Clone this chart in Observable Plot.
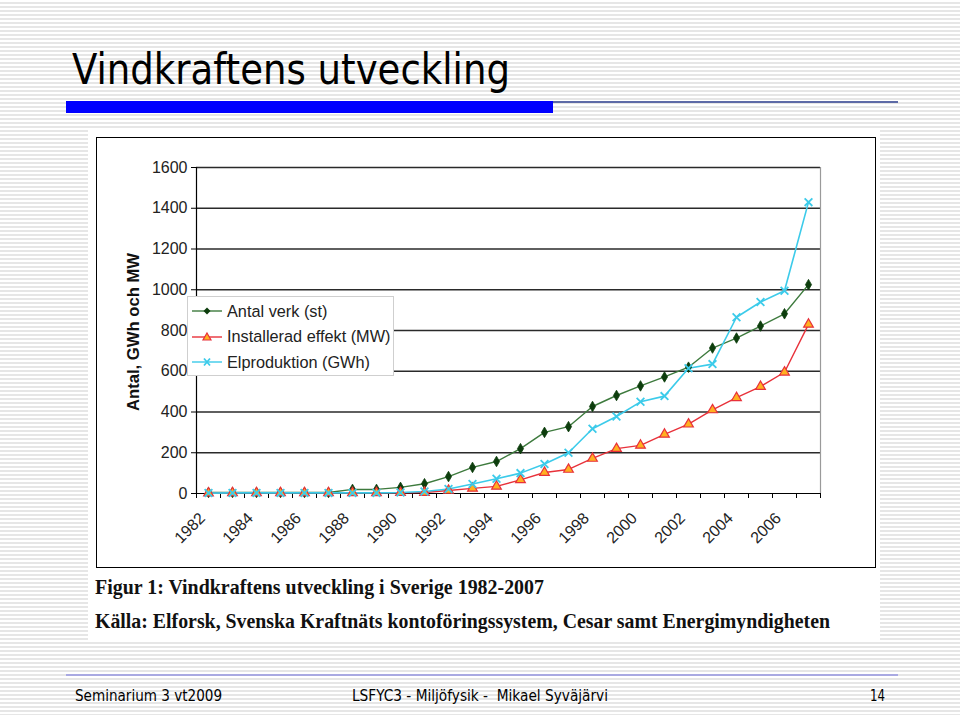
<!DOCTYPE html>
<html><head><meta charset="utf-8">
<script src="https://cdn.jsdelivr.net/npm/d3@7"></script>
<script src="https://cdn.jsdelivr.net/npm/@observablehq/plot@0.6"></script>
<style>
html,body{margin:0;padding:0;}
body{width:960px;height:715px;position:relative;overflow:hidden;
 background:repeating-linear-gradient(to bottom,#ffffff 0px,#ffffff 2px,#e6e6e6 2px,#e6e6e6 4px);
 font-family:"Liberation Sans",Arial,sans-serif;}
#deco{position:absolute;left:0;top:0;}
#chart{position:absolute;left:96px;top:137px;}
#legend{position:absolute;left:187px;top:296px;width:207px;height:80px;background:#fff;border:1px solid #cfcfcf;box-sizing:border-box;}
#legend .row{position:absolute;left:4px;height:20px;display:flex;align-items:center;font-size:16.3px;color:#222;white-space:nowrap;}
#legend svg{margin-right:3px;}
</style></head><body>
<svg id="deco" width="960" height="715" font-family="Liberation Sans, Arial, sans-serif">
 <text x="72" y="84" font-family="DejaVu Sans Condensed, DejaVu Sans" font-stretch="condensed" font-size="42" textLength="438" lengthAdjust="spacingAndGlyphs" fill="#000">Vindkraftens utveckling</text>
 <rect x="66" y="101" width="487" height="12" fill="#0000ff"/>
 <rect x="553" y="101" width="345" height="2" fill="#5d6aa6"/>
 <rect x="88" y="129" width="792" height="511" fill="#fff"/>
 <rect x="96.5" y="137.5" width="779" height="430" fill="none" stroke="#000" stroke-width="1"/>
 <text x="95" y="594" font-family="Liberation Serif, serif" font-weight="bold" font-size="21" textLength="449" lengthAdjust="spacingAndGlyphs" fill="#111">Figur 1: Vindkraftens utveckling i Sverige 1982-2007</text>
 <text x="95" y="628" font-family="Liberation Serif, serif" font-weight="bold" font-size="21" textLength="735" lengthAdjust="spacingAndGlyphs" fill="#111">Källa: Elforsk, Svenska Kraftnäts kontoföringssystem, Cesar samt Energimyndigheten</text>
 <rect x="66" y="674" width="832" height="2" fill="#a9a9e2"/>
 <text x="75" y="701" font-family="DejaVu Sans Condensed, DejaVu Sans" font-stretch="condensed" font-size="16" textLength="147" lengthAdjust="spacingAndGlyphs" fill="#000">Seminarium 3 vt2009</text>
 <text x="352" y="701" xml:space="preserve" font-family="DejaVu Sans Condensed, DejaVu Sans" font-stretch="condensed" font-size="16" textLength="256" lengthAdjust="spacingAndGlyphs" fill="#000">LSFYC3 - Miljöfysik -  Mikael Syväjärvi</text>
 <text x="870" y="701" font-family="DejaVu Sans Condensed, DejaVu Sans" font-stretch="condensed" font-size="16" textLength="15" lengthAdjust="spacingAndGlyphs" fill="#000">14</text>
 <text transform="translate(139,332) rotate(-90)" text-anchor="middle" font-weight="bold" font-size="16.5" textLength="158" lengthAdjust="spacingAndGlyphs" fill="#111">Antal, GWh och MW</text>
</svg>
<div id="chart"></div>
<div id="legend"></div>
<script>
// ---- data ----
const years = [1982,1983,1984,1985,1986,1987,1988,1989,1990,1991,1992,1993,1994,1995,1996,1997,1998,1999,2000,2001,2002,2003,2004,2005,2006,2007];
const antalVerk = [5,5,5,5,5,5,20,20,30,48,83,128,157,220,300,328,427,481,528,572,620,714,763,822,882,1025];
const installeradEffekt = [2,3,3,3,3,3,3,3,4,5,15,25,35,67,103,118,172,220,236,290,340,410,470,525,595,830];
const elproduktion = [2,3,3,3,3,3,3,3,5,10,22,47,72,100,145,200,318,378,450,478,615,635,865,940,995,1430];
const seriesNames = ["Antal verk (st)","Installerad effekt (MW)","Elproduktion (GWh)"];
const yTicks = [0,200,400,600,800,1000,1200,1400,1600];
const xTickLabels = [1982,1984,1986,1988,1990,1992,1994,1996,1998,2000,2002,2004,2006];
const colors = {line:["#3d7a3d","#e8313a","#3ccbea"], fill:["#0d3d0d","#ffb020","#3ccbea"]};

const rows = (vals, s) => years.map((yr, i) => ({year: yr, value: vals[i], series: s}));
const d0 = rows(antalVerk, seriesNames[0]);
const d1 = rows(installeradEffekt, seriesNames[1]);
const d2 = rows(elproduktion, seriesNames[2]);
const boundaries = years.map(y => y - 0.5).concat([years[years.length-1] + 0.5]);

const chart = Plot.plot({
  width: 780, height: 430,
  marginLeft: 100, marginRight: 56, marginTop: 30, marginBottom: 74,
  x: {type: "linear", domain: [boundaries[0], boundaries[boundaries.length-1]]},
  y: {domain: [0, 1600]},
  style: {fontFamily: "Liberation Sans, Arial, sans-serif", fontSize: "16px", color: "#222", background: "transparent", overflow: "visible"},
  marks: [
    Plot.ruleY(yTicks.filter(d => d > 0), {stroke: "#2a2a2a", strokeWidth: 1.3}),
    Plot.ruleX([boundaries[boundaries.length-1]], {stroke: "#9a9a9a", strokeWidth: 1.2}),
    Plot.axisY({ticks: yTicks, tickSize: 5, tickPadding: 4, tickFormat: d => String(d), label: null, stroke: "#000", fontSize: 16}),
    Plot.ruleX([boundaries[0]], {stroke: "#000", strokeWidth: 1.2}),
    Plot.ruleY([0], {stroke: "#000", strokeWidth: 1.2}),
    Plot.axisX({ticks: boundaries, tickSize: 5, tickFormat: () => "", label: null, stroke: "#000"}),
    Plot.axisX({ticks: xTickLabels, tickSize: 0, tickRotate: -45, tickPadding: 22, dx: -6, tickFormat: d => String(d), label: null, fontSize: 16}),
    Plot.line(d0, {x: "year", y: "value", stroke: colors.line[0], strokeWidth: 1.4}),
    Plot.line(d1, {x: "year", y: "value", stroke: colors.line[1], strokeWidth: 1.4}),
    Plot.line(d2, {x: "year", y: "value", stroke: colors.line[2], strokeWidth: 1.6}),
    Plot.dot(d0, {x: "year", y: "value", symbol: "diamond", r: 3.2, fill: colors.fill[0], stroke: colors.fill[0], strokeWidth: 0.8}),
    Plot.dot(d1, {x: "year", y: "value", symbol: "triangle", r: 3.6, fill: colors.fill[1], stroke: colors.line[1], strokeWidth: 1.2}),
    Plot.dot(d2, {x: "year", y: "value", symbol: "times", r: 3.6, stroke: colors.fill[2], strokeWidth: 1.8})
  ]
});
document.getElementById("chart").appendChild(chart);

// legend
const legend = document.getElementById("legend");
const markerSvg = [
  '<path d="M7,-3.5L10.5,0L7,3.5L3.5,0Z" transform="translate(8,0)" fill="#0d3d0d"/>',
  '<path d="M15,-4L19,3L11,3Z" fill="#ffb020" stroke="#e8313a" stroke-width="1.2"/>',
  '<path d="M12,-3.5L18,3.5M18,-3.5L12,3.5" stroke="#3ccbea" stroke-width="1.8"/>'
];
seriesNames.forEach((name, i) => {
  const row = document.createElement("div");
  row.className = "row";
  row.style.top = (4 + i * 25.5) + "px";
  row.innerHTML = `<svg width="32" height="20" viewBox="0 -10 32 20"><line x1="0" x2="30" y1="0" y2="0" stroke="${colors.line[i]}" stroke-width="1.4"/>${markerSvg[i]}</svg><span>${name}</span>`;
  legend.appendChild(row);
});
</script>
</body></html>
